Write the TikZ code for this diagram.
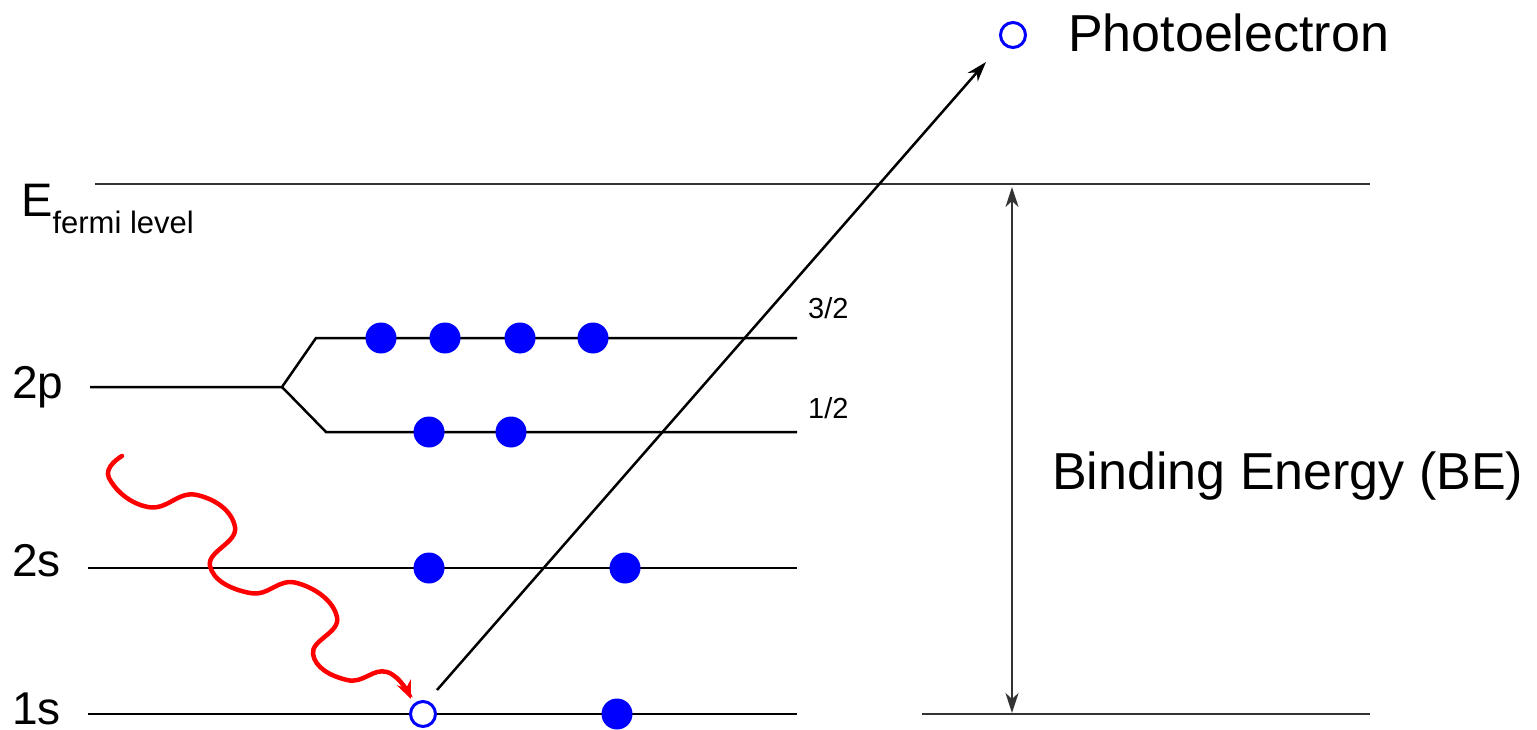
\documentclass[tikz,border=0pt]{standalone}
\usepackage{fontspec}
\setmainfont{Liberation Sans}
\usetikzlibrary{arrows.meta}
\begin{document}
\begin{tikzpicture}[x=1pt,y=-1pt,
  level/.style={line width=2.5pt,black},
  filled/.style={circle,fill=blue,inner sep=0pt,minimum size=31pt},
  hole/.style={circle,draw=blue,line width=3pt,fill=white,inner sep=0pt,minimum size=25pt},
  biglbl/.style={font=\fontsize{52}{56}\selectfont,inner sep=0pt,anchor=base west},
  orblbl/.style={font=\fontsize{46}{50}\selectfont,inner sep=0pt,anchor=base west},
  smalllbl/.style={font=\fontsize{29}{32}\selectfont,inner sep=0pt,anchor=base west},
  tip/.style={-{Stealth[length=20pt,width=13pt,inset=6pt]}}]
\useasboundingbox (0,0) rectangle (1537,730);
% levels
\coordinate (fL) at (95,184); \coordinate (fR) at (1370,184);
\draw[level,black!80] (fL) -- (fR);
\coordinate (s1L) at (88,714); \coordinate (s1R) at (797,714);
\coordinate (s1bL) at (922,714); \coordinate (s1bR) at (1370,714);
\draw[level] (s1L) -- (s1R);
\draw[level,black!80] (s1bL) -- (s1bR);
\coordinate (s2L) at (88,568); \coordinate (s2R) at (797,568);
\draw[level] (s2L) -- (s2R);
\coordinate (pL) at (90,387); \coordinate (pS) at (282,387);
\coordinate (p3a) at (316,338); \coordinate (p3b) at (797,338);
\coordinate (p1a) at (326,432); \coordinate (p1b) at (797,432);
\draw[level,line join=miter] (pL) -- (pS) -- (p3a) -- (p3b);
\draw[level,line join=miter] (pS) -- (p1a) -- (p1b);
% electrons
\node[filled] (e1) at (381,338) {};
\node[filled] (e2) at (445,338) {};
\node[filled] (e3) at (520,338) {};
\node[filled] (e4) at (593,338) {};
\node[filled] (e5) at (429,432) {};
\node[filled] (e6) at (511,432) {};
\node[filled] (e7) at (429,568) {};
\node[filled] (e8) at (625,568) {};
\node[filled] (e9) at (617,714) {};
\node[hole] (h1) at (423,714) {};
\node[hole] (pe) at (1013,35) {};
% photoelectron path
\coordinate (a1) at (437,690);
\coordinate (a2) at (986,62);
\draw[line width=2.5pt,tip] (a1) -- (a2);
% binding energy arrow
\coordinate (b1) at (1012,187);
\coordinate (b2) at (1012,713);
\draw[line width=2.5pt,black!80,{Stealth[length=20pt,width=13pt,inset=6pt]}-{Stealth[length=20pt,width=13pt,inset=6pt]}] (b1) -- (b2);
% photon
\draw[red,line width=4.5pt,line cap=round,-{Stealth[length=18pt,width=15pt,inset=6pt]}]
 plot[smooth,tension=0.8] coordinates {(122,456) (109,478) (148,507) (197,495) (235,527) (210,566) (250,593) (297,583) (337,617) (313,654) (347,680) (387,672) (411,699)};
% labels
\node[biglbl] (lpe) at (1068,52) {Photoelectron};
\node[biglbl] (lbe) at (1052,489) {Binding Energy (BE)};
\node[orblbl] (l2p) at (12,398) {2p};
\node[orblbl] (l2s) at (12,576) {2s};
\node[orblbl] (l1s) at (12,724) {1s};
\node[smalllbl] (l32) at (808,318) {3/2};
\node[smalllbl] (l12) at (808,418) {1/2};
\node[anchor=base west,inner sep=0pt,font=\fontsize{47}{52}\selectfont] (lE) at (21,217) {E\raisebox{-17pt}{\fontsize{31}{34}\selectfont fermi level}};
\end{tikzpicture}
\end{document}
